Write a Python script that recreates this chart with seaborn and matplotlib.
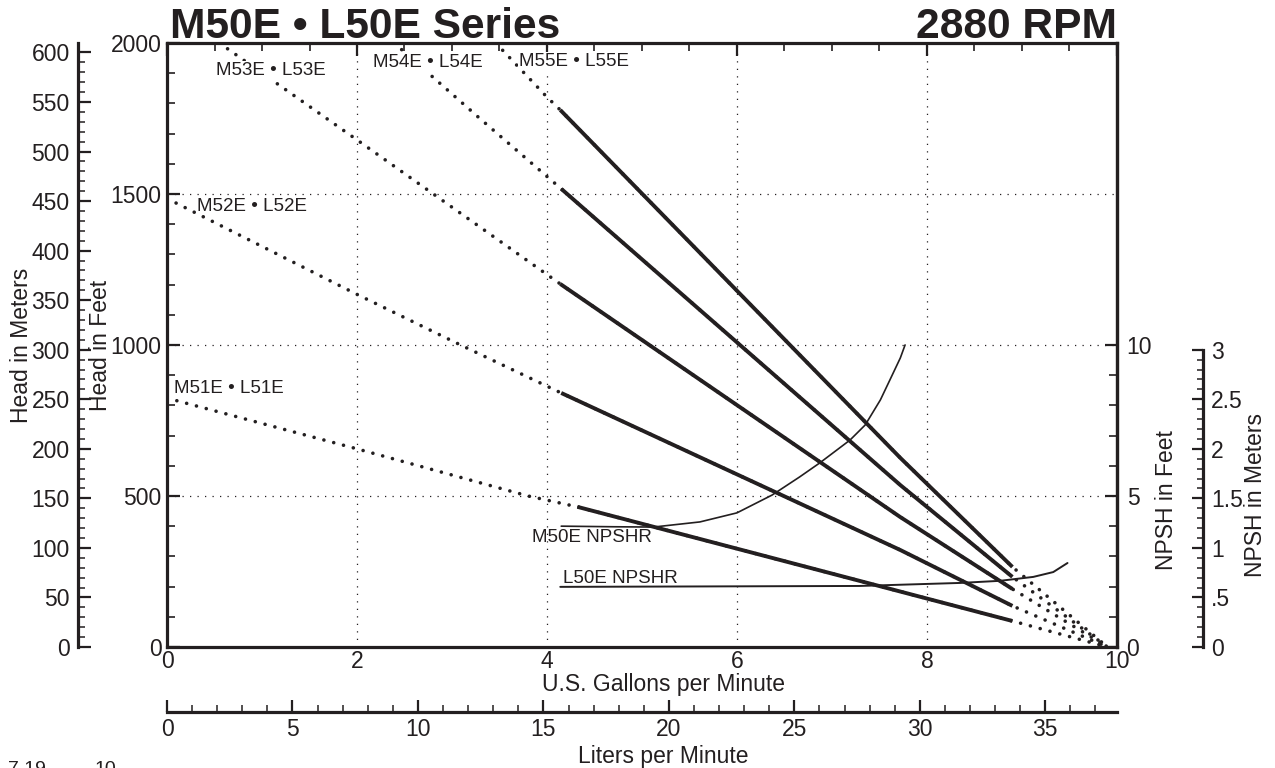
import numpy as np
import pandas as pd
import matplotlib.pyplot as plt
import matplotlib.ticker as mticker
import seaborn as sns

# pump curves: head in feet vs U.S. gallons per minute
m51e_gpm = [0, 2.0, 3.8, 4.32, 6.66, 8.9, 9.9]
m51e_ft = [824, 656, 500, 464, 271, 86, 0]
m52e_gpm = [0, 1.99, 3.07, 4.15, 7.72, 8.9, 9.9]
m52e_ft = [1485, 1169, 1003, 841, 321, 136, 0]
m53e_gpm = [0.55, 2.0, 4.14, 7.72, 8.9, 9.9]
m53e_ft = [2000, 1679, 1202, 430, 192, 0]
m54e_gpm = [2.39, 3.3, 4.15, 7.72, 8.9, 9.9]
m54e_ft = [2000, 1748, 1517, 536, 232, 0]
m55e_gpm = [3.46, 3.99, 4.14, 7.72, 8.9, 9.9]
m55e_ft = [2000, 1824, 1778, 626, 265, 0]
curve_names = ["M51E • L51E", "M52E • L52E", "M53E • L53E", "M54E • L54E", "M55E • L55E"]

# recommended (solid) range of each curve
solid_from = [4.32, 4.15, 4.14, 4.15, 4.14]
solid_to = 8.9

# NPSHR curves, feet
m50e_npshr_gpm = [4.15, 4.7, 5.12, 5.61, 6.0, 6.37, 6.66, 6.87, 7.19, 7.35, 7.51, 7.61, 7.72, 7.77]
m50e_npshr_ft = [4.0, 3.98, 3.97, 4.14, 4.44, 5.03, 5.63, 6.09, 6.85, 7.35, 8.18, 8.84, 9.57, 10.0]
l50e_npshr_gpm = [4.14, 7.29, 8.35, 8.77, 9.12, 9.33, 9.48]
l50e_npshr_ft = [1.99, 2.02, 2.12, 2.19, 2.32, 2.48, 2.78]

npsh_m_ticks = [0, 0.5, 1, 1.5, 2, 2.5, 3]
npsh_m_labels = ["0", ".5", "1", "1.5", "2", "2.5", "3"]

FT_TO_M = 0.3048
GAL_TO_L = 3.78541

sns.set_style("white")
plt.rcParams["font.family"] = ["Liberation Sans", "DejaVu Sans"]
ink = "#231f20"
plt.rcParams["text.color"] = ink
plt.rcParams["xtick.color"] = ink
plt.rcParams["ytick.color"] = ink

fig = plt.figure(figsize=(12.75, 7.68), dpi=100)
ax = fig.add_axes([0.131, 0.1576, 0.745, 0.7865])
ax.set_xlim(0, 10)
ax.set_ylim(0, 2000)

curves = [(m51e_gpm, m51e_ft), (m52e_gpm, m52e_ft), (m53e_gpm, m53e_ft),
          (m54e_gpm, m54e_ft), (m55e_gpm, m55e_ft)]
for (gpm, ft), s0 in zip(curves, solid_from):
    df = pd.DataFrame({"gpm": gpm, "ft": ft})
    sns.lineplot(data=df, x="gpm", y="ft", ax=ax, color=ink, lw=2.6,
                 linestyle=(0, (0.01, 2.8)), dash_capstyle="round")
    sub = df[(df.gpm >= s0 - 1e-9) & (df.gpm <= solid_to)]
    sns.lineplot(data=sub, x="gpm", y="ft", ax=ax, color=ink, lw=2.8,
                 solid_capstyle="butt")

# curve labels
label_pos = [(0.653, 857), (0.895, 1460), (1.095, 1909), (2.747, 1935), (4.284, 1940)]
for name, (lx, ly) in zip(curve_names, label_pos):
    ax.text(lx, ly, name, fontsize=13.5, ha="center", va="center",
            bbox=dict(facecolor="white", edgecolor="none", pad=0.5))

# axes styling
for s in ax.spines.values():
    s.set_linewidth(2.3)
    s.set_color(ink)
ax.xaxis.set_major_locator(mticker.MultipleLocator(2))
ax.xaxis.set_minor_locator(mticker.MultipleLocator(0.5))
ax.yaxis.set_major_locator(mticker.MultipleLocator(500))
ax.yaxis.set_minor_locator(mticker.MultipleLocator(100))
ax.tick_params(which="both", direction="in", top=True, labelsize=16.5)
ax.tick_params(which="major", length=9, width=1.6)
ax.tick_params(which="minor", length=5.5, width=1.2)
ax.tick_params(axis="y", pad=4)
ax.tick_params(axis="x", pad=2.5)
ax.grid(True, which="major", color=ink, lw=0.9, linestyle=(0, (1, 5)))
ax.set_xlabel("")
ax.set_ylabel("")

ax.text(0.523, -0.062, "U.S. Gallons per Minute", transform=ax.transAxes,
        fontsize=16.5, ha="center", va="center")
ax.text(-0.0705, 0.5, "Head in Feet", transform=ax.transAxes, rotation=90,
        fontsize=16.5, ha="center", va="center")
ax.text(-0.153, 0.5, "Head in Meters", transform=ax.transAxes, rotation=90,
        fontsize=16.5, ha="center", va="center")

# title
ax.text(0.003, 1.008, "M50E • L50E Series", transform=ax.transAxes,
        fontsize=30.6, fontweight="bold", va="baseline", ha="left")
ax.text(1.0, 1.008, "2880 RPM", transform=ax.transAxes,
        fontsize=30.6, fontweight="bold", va="baseline", ha="right")

# meters axis on left
secm = ax.secondary_yaxis(-0.0937, functions=(lambda f: f * FT_TO_M, lambda m: m / FT_TO_M))
secm.yaxis.set_major_locator(mticker.MultipleLocator(50))
secm.yaxis.set_minor_locator(mticker.MultipleLocator(10))
secm.tick_params(which="both", direction="in", labelsize=16.5, pad=6)
secm.tick_params(which="major", length=9, width=1.6)
secm.tick_params(which="minor", length=5, width=1.1)
secm.spines["left"].set_linewidth(2.3)
secm.spines["left"].set_color(ink)

# liters axis at bottom
secl = ax.secondary_xaxis(-0.1076, functions=(lambda g: g * GAL_TO_L, lambda l: l / GAL_TO_L))
secl.xaxis.set_major_locator(mticker.MultipleLocator(5))
secl.xaxis.set_minor_locator(mticker.MultipleLocator(1))
secl.tick_params(which="both", direction="in", labelsize=16.5, pad=4)
secl.tick_params(which="major", length=9, width=1.6)
secl.tick_params(which="minor", length=5, width=1.1)
secl.spines["bottom"].set_linewidth(2.3)
secl.spines["bottom"].set_color(ink)
ax.text(0.522, -0.181, "Liters per Minute", transform=ax.transAxes,
        fontsize=16.5, ha="center", va="center")

# NPSH in feet (right)
ax2 = ax.twinx()
ax2.set_ylim(0, 20)
for k in ["left", "top", "bottom"]:
    ax2.spines[k].set_visible(False)
ax2.spines["right"].set_linewidth(2.3)
ax2.spines["right"].set_color(ink)
ax2.yaxis.set_major_locator(mticker.FixedLocator([0, 5, 10]))
ax2.yaxis.set_minor_locator(mticker.FixedLocator(list(range(0, 11))))
ax2.tick_params(which="both", direction="in", labelsize=16.5, pad=7)
ax2.tick_params(which="major", length=9, width=1.6)
ax2.tick_params(which="minor", length=5.5, width=1.2)

npshr_m = pd.DataFrame({"gpm": m50e_npshr_gpm, "ft": m50e_npshr_ft})
npshr_l = pd.DataFrame({"gpm": l50e_npshr_gpm, "ft": l50e_npshr_ft})
sns.lineplot(data=npshr_m, x="gpm", y="ft", ax=ax2, color=ink, lw=1.2)
sns.lineplot(data=npshr_l, x="gpm", y="ft", ax=ax2, color=ink, lw=1.4)
ax2.set_ylabel("")
ax2.set_xlabel("")
ax2.text(4.474, 3.64, "M50E NPSHR", fontsize=13.5, ha="center", va="center")
ax2.text(4.768, 2.28, "L50E NPSHR", fontsize=13.5, ha="center", va="center")
ax.text(1.0526, 0.243, "NPSH in Feet", transform=ax.transAxes, rotation=90,
        fontsize=16.5, ha="center", va="center")

# NPSH in meters (far right)
secr = ax2.secondary_yaxis(1.0905, functions=(lambda f: f * FT_TO_M, lambda m: m / FT_TO_M))
secr.yaxis.set_major_locator(mticker.FixedLocator(npsh_m_ticks))
secr.yaxis.set_major_formatter(mticker.FixedFormatter(npsh_m_labels))
secr.yaxis.set_minor_locator(mticker.FixedLocator(np.arange(0, 3.01, 0.1)))
secr.tick_params(which="both", direction="in", labelsize=16.5, pad=6)
secr.tick_params(which="major", length=8, width=1.6)
secr.tick_params(which="minor", length=4.5, width=1.1)
secr.spines["right"].set_bounds(0, 3)
secr.spines["right"].set_linewidth(2.3)
secr.spines["right"].set_color(ink)
ax.text(1.146, 0.252, "NPSH in Meters", transform=ax.transAxes, rotation=90,
        fontsize=16.5, ha="center", va="center")

# cut-off footer text
fig.text(8 / 1275, 0.0085, "7.19", fontsize=14, ha="left", va="top")
fig.text(95 / 1275, 0.0085, "10", fontsize=14, ha="left", va="top")

fig.savefig("out.png", dpi=100)
